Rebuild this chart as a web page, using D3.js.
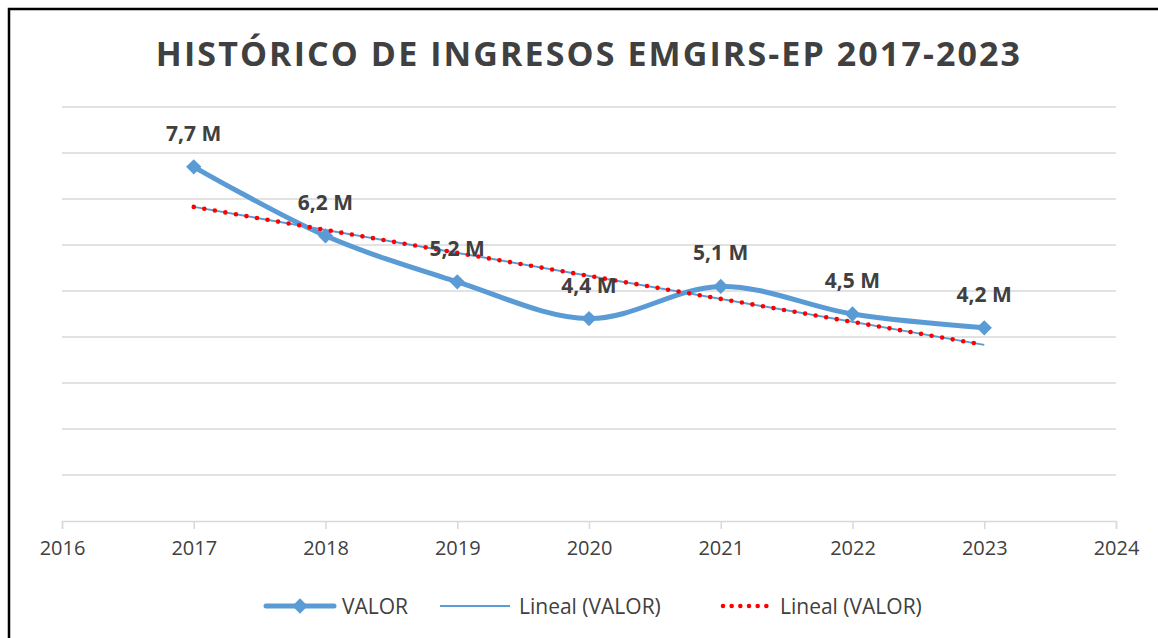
<!DOCTYPE html>
<html><head><meta charset="utf-8">
<script src="https://cdn.jsdelivr.net/npm/d3@7"></script>
<style>body{margin:0;background:#fff}svg{display:block}</style>
</head><body>
<svg id="c" width="1158" height="638"></svg>
<script>
const title = "HISTÓRICO DE INGRESOS EMGIRS-EP 2017-2023";
const years = [2017, 2018, 2019, 2020, 2021, 2022, 2023];
const values = [7.7, 6.2, 5.2, 4.4, 5.1, 4.5, 4.2]; // millions
const labels = ["7,7 M", "6,2 M", "5,2 M", "4,4 M", "5,1 M", "4,5 M", "4,2 M"];
const xTicks = [2016, 2017, 2018, 2019, 2020, 2021, 2022, 2023, 2024];
const yTicks = [1, 2, 3, 4, 5, 6, 7, 8, 9];
const legendNames = ["VALOR", "Lineal (VALOR)", "Lineal (VALOR)"];

const svg = d3.select("#c");
const blue = "#5b9bd5", grid = "#d9d9d9", txt = "#404040";
const x = d3.scaleLinear().domain([2016, 2024]).range([62, 1116]);
const y = d3.scaleLinear().domain([0, 9]).range([521, 107]);

svg.append("rect").attr("x", 9).attr("y", 9).attr("width", 1170).attr("height", 650)
  .attr("fill", "#fff").attr("stroke", "#000").attr("stroke-width", 2.5);

svg.append("text").attr("x", 589).attr("y", 66).attr("text-anchor", "middle")
  .attr("font-family", "Open Sans").attr("font-weight", "bold").attr("font-size", 34)
  .attr("letter-spacing", 2.1).attr("fill", txt).text(title);

// gridlines
svg.append("g").selectAll("line").data(yTicks).join("line")
  .attr("x1", x(2016)).attr("x2", x(2024)).attr("y1", d => y(d)).attr("y2", d => y(d))
  .attr("stroke", grid).attr("stroke-width", 1.5);

// x axis
const xa = svg.append("g").attr("transform", `translate(0,${y(0)})`)
  .call(d3.axisBottom(x).tickValues(xTicks).tickFormat(d3.format("d")).tickSize(8).tickPadding(12));
xa.select(".domain").attr("stroke", grid).attr("stroke-width", 1.5);
xa.selectAll(".tick line").attr("stroke", grid).attr("stroke-width", 1.5);
xa.selectAll(".tick text").attr("font-family", "Open Sans").attr("font-size", 20).attr("fill", txt);

// trend line (linear regression)
const n = years.length;
const mx = d3.mean(years), my = d3.mean(values);
const slope = d3.sum(years.map((v, i) => (v - mx) * (values[i] - my))) / d3.sum(years.map(v => (v - mx) ** 2));
const icpt = my - slope * mx;
const trend = [years[0], years[n - 1]].map(v => [v, icpt + slope * v]);
const tl = d3.line().x(d => x(d[0])).y(d => y(d[1]));

// series line
const line = d3.line().x((d, i) => x(years[i])).y(d => y(d)).curve(d3.curveCatmullRom.alpha(0.5));
svg.append("path").datum(values).attr("d", line).attr("fill", "none")
  .attr("stroke", blue).attr("stroke-width", 5).attr("stroke-linejoin", "round");

const diamond = d3.symbol().type(d3.symbolDiamond2).size(150);
svg.append("g").selectAll("path").data(values).join("path")
  .attr("transform", (d, i) => `translate(${x(years[i])},${y(d)})`)
  .attr("d", diamond).attr("fill", blue);

svg.append("path").datum(trend).attr("d", tl).attr("stroke", blue).attr("stroke-width", 2).attr("fill", "none");
svg.append("path").datum(trend).attr("d", tl).attr("stroke", "#ff0000").attr("stroke-width", 4.6)
  .attr("stroke-linecap", "round").attr("stroke-dasharray", "0 10.7").attr("fill", "none");

// labels
svg.append("g").selectAll("text").data(values).join("text")
  .attr("x", (d, i) => x(years[i])).attr("y", d => y(d) - 26).attr("text-anchor", "middle")
  .attr("font-family", "Open Sans").attr("font-weight", "bold").attr("font-size", 21)
  .attr("fill", txt).text((d, i) => labels[i]);

// legend
const ly = 606;
const lg = svg.append("g").attr("font-family", "Open Sans").attr("font-size", 21).attr("fill", txt);
lg.append("line").attr("x1", 266).attr("x2", 334).attr("y1", ly).attr("y2", ly)
  .attr("stroke", blue).attr("stroke-width", 5).attr("stroke-linecap", "round");
lg.append("path").attr("transform", `translate(300,${ly})`).attr("d", d3.symbol().type(d3.symbolDiamond2).size(150)).attr("fill", blue);
lg.append("text").attr("x", 342).attr("y", ly + 7.5).text(legendNames[0]);
lg.append("line").attr("x1", 440).attr("x2", 510).attr("y1", ly).attr("y2", ly)
  .attr("stroke", blue).attr("stroke-width", 2);
lg.append("text").attr("x", 519).attr("y", ly + 7.5).text(legendNames[1]);
lg.append("line").attr("x1", 723).attr("x2", 775).attr("y1", ly).attr("y2", ly)
  .attr("stroke", "#ff0000").attr("stroke-width", 4.6).attr("stroke-linecap", "round").attr("stroke-dasharray", "0 8.67");
lg.append("text").attr("x", 780).attr("y", ly + 7.5).text(legendNames[2]);
</script>
</body></html>
